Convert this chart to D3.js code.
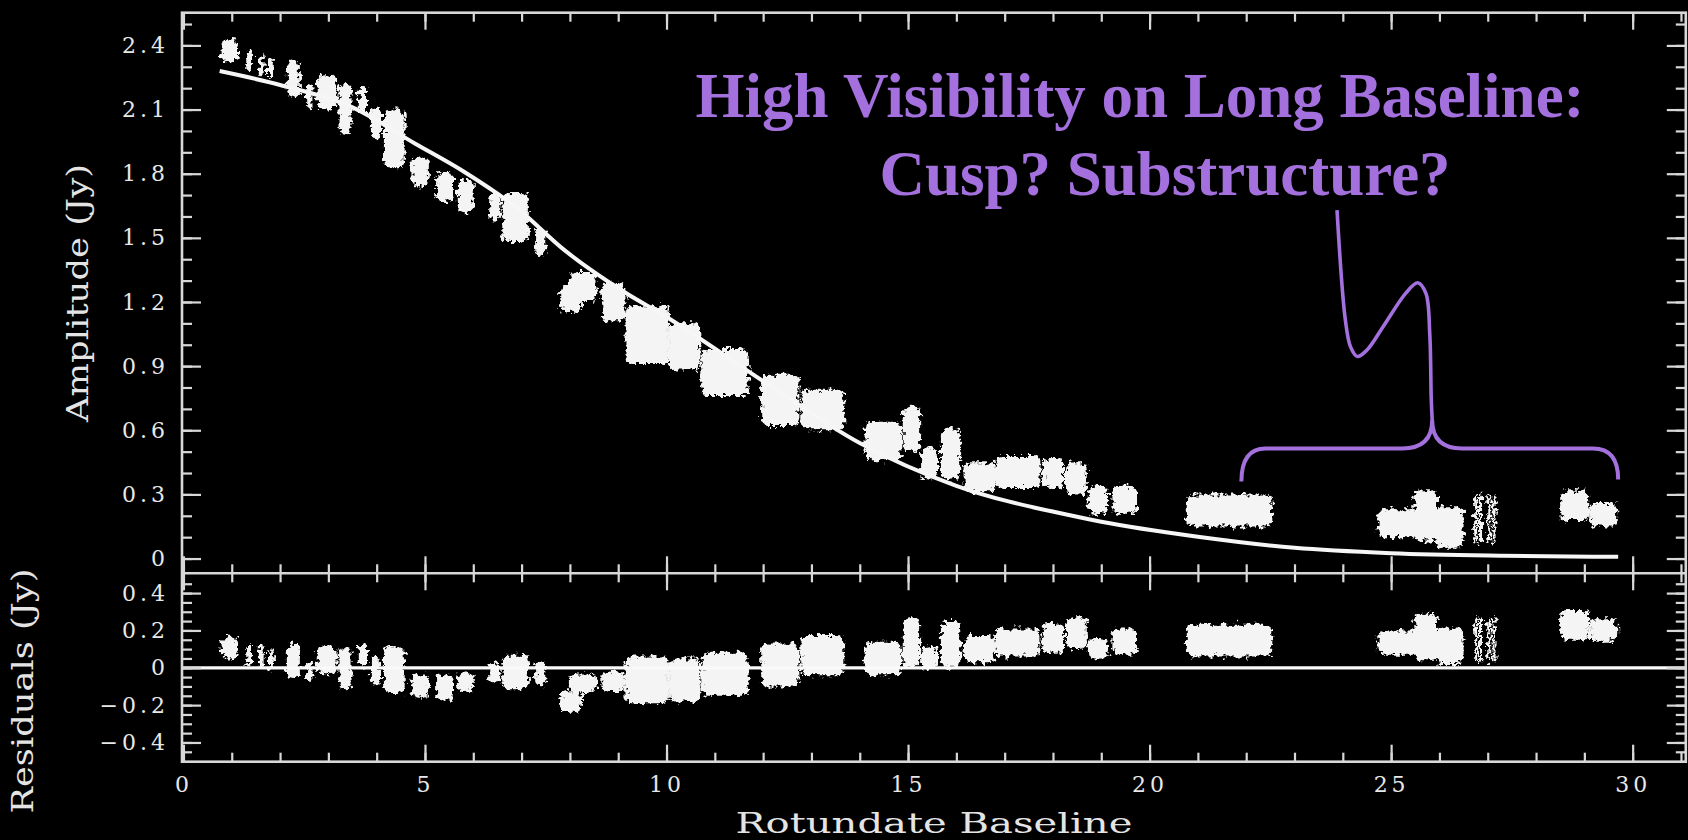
<!DOCTYPE html>
<html>
<head>
<meta charset="utf-8">
<script src="https://cdn.jsdelivr.net/npm/d3@7"></script>
<style>
  html, body { margin: 0; padding: 0; background: #000; }
  svg { display: block; }
  .axis text { font-family: "DejaVu Serif", serif; font-size: 22px; fill: #e8e8e8; letter-spacing: 4px; }
  .axis line { stroke: #d8d8d8; stroke-width: 2.2; }
  .axis path { display: none; }
</style>
</head>
<body>
<div id="chart"></div>
<script>

// Model curve (fitted amplitude)
var modelBaseline = [0.75, 2.0, 3.5, 4.8, 5.8, 6.9, 7.9, 9.1, 10.0, 12.0, 14.0, 16.0, 18.4, 19.0, 21.0, 23.0, 25.0, 27.3, 29.7];
var modelAmp      = [2.28, 2.215, 2.11, 1.94, 1.81, 1.64, 1.44, 1.25, 1.13, 0.83, 0.54, 0.34, 0.2, 0.172, 0.102, 0.05, 0.025, 0.013, 0.008];

// Data clumps: baseline range, amplitude range, residual range
var clumpStart = [0.79, 1.30, 1.56, 1.75, 2.14, 2.54, 2.76, 3.21, 3.63, 3.88, 4.15, 4.72, 5.23, 5.68, 6.33, 6.60, 7.28, 7.80, 8.00, 8.65, 9.15, 10.05, 10.72, 11.96, 12.79, 14.10, 14.89, 15.27, 15.68, 16.15, 16.80, 17.78, 18.27, 18.72, 19.23, 20.77, 24.72, 25.48, 25.92, 26.72, 26.82, 26.99, 27.10, 28.50, 29.10];
var clumpEnd   = [1.13, 1.42, 1.66, 1.87, 2.41, 2.67, 3.17, 3.48, 3.80, 4.09, 4.58, 5.08, 5.58, 6.01, 6.56, 7.15, 7.49, 8.25, 8.55, 9.15, 10.05, 10.70, 11.70, 12.75, 13.68, 14.86, 15.25, 15.60, 16.08, 16.80, 17.74, 18.23, 18.70, 19.14, 19.74, 22.54, 25.60, 25.95, 26.50, 26.78, 26.88, 27.05, 27.16, 29.10, 29.68];
var ampLow     = [2.32, 2.28, 2.26, 2.24, 2.16, 2.11, 2.10, 1.99, 2.07, 1.96, 1.83, 1.74, 1.67, 1.62, 1.58, 1.48, 1.42, 1.15, 1.20, 1.11, 0.91, 0.88, 0.76, 0.62, 0.60, 0.46, 0.50, 0.37, 0.37, 0.31, 0.33, 0.33, 0.30, 0.21, 0.21, 0.15, 0.10, 0.08, 0.05, 0.07, 0.07, 0.07, 0.07, 0.18, 0.15];
var ampHigh    = [2.43, 2.38, 2.36, 2.34, 2.33, 2.22, 2.26, 2.22, 2.21, 2.11, 2.10, 1.88, 1.81, 1.77, 1.71, 1.71, 1.55, 1.28, 1.34, 1.29, 1.18, 1.10, 0.98, 0.86, 0.79, 0.64, 0.71, 0.52, 0.61, 0.45, 0.48, 0.47, 0.45, 0.34, 0.34, 0.30, 0.23, 0.32, 0.24, 0.30, 0.30, 0.30, 0.30, 0.32, 0.26];
var resLow     = [0.05, 0.02, 0.005, -0.015, -0.06, -0.07, -0.035, -0.11, 0.005, -0.09, -0.14, -0.16, -0.175, -0.13, -0.085, -0.115, -0.10, -0.235, -0.13, -0.13, -0.19, -0.18, -0.15, -0.10, -0.04, -0.04, 0.00, -0.01, 0.00, 0.03, 0.06, 0.08, 0.10, 0.05, 0.07, 0.06, 0.07, 0.04, 0.02, 0.03, 0.03, 0.03, 0.03, 0.15, 0.14];
var resHigh    = [0.166, 0.12, 0.12, 0.10, 0.13, 0.03, 0.115, 0.11, 0.13, 0.06, 0.115, -0.035, -0.035, -0.02, 0.025, 0.07, 0.035, -0.12, -0.03, -0.02, 0.06, 0.05, 0.08, 0.13, 0.175, 0.14, 0.27, 0.12, 0.25, 0.17, 0.21, 0.24, 0.27, 0.16, 0.21, 0.23, 0.20, 0.29, 0.21, 0.27, 0.27, 0.27, 0.27, 0.31, 0.26];

// Tick values
var baseTicks = [0, 5, 10, 15, 20, 25, 30];
var ampTicks  = [0, 0.3, 0.6, 0.9, 1.2, 1.5, 1.8, 2.1, 2.4];
var resTicks  = [-0.4, -0.2, 0, 0.2, 0.4];

var baseMinor = d3.range(0, 32, 1);
var ampMinor  = d3.range(0, 26, 1).map(function(d) { return d / 10; });
var resMinor  = d3.range(-9, 10, 1).map(function(d) { return d / 20; });

var W = 1688, H = 840;
var xLeft = 182, xRight = 1685.8, yTop = 12.7, yMid = 573.3, yBot = 761.7;

var svg = d3.select("#chart").append("svg")
    .attr("width", W)
    .attr("height", H);

svg.append("rect").attr("width", W).attr("height", H).attr("fill", "#000");

// fuzzy edges for the data clumps
var defs = svg.append("defs");
var filt = defs.append("filter")
    .attr("id", "fuzz")
    .attr("filterUnits", "userSpaceOnUse")
    .attr("x", 0).attr("y", 0).attr("width", W).attr("height", H);
filt.append("feTurbulence")
    .attr("type", "fractalNoise")
    .attr("baseFrequency", 0.22)
    .attr("numOctaves", 3)
    .attr("seed", 4)
    .attr("result", "noise");
filt.append("feDisplacementMap")
    .attr("in", "SourceGraphic")
    .attr("in2", "noise")
    .attr("scale", 11)
    .attr("xChannelSelector", "R")
    .attr("yChannelSelector", "G")
    .attr("result", "moved");
filt.append("feGaussianBlur")
    .attr("in", "moved")
    .attr("stdDeviation", 0.5);

// scales
var x = d3.scaleLinear().domain([-0.03, 31.1]).range([xLeft, xRight]);
var yAmp = d3.scaleLinear().domain([-0.069, 2.553]).range([yMid, yTop]);
var yRes = d3.scaleLinear().domain([-0.503, 0.506]).range([yBot, yMid]);

var clumps = clumpStart.map(function(s, i) {
    return { x0: s, x1: clumpEnd[i], a0: ampLow[i], a1: ampHigh[i], r0: resLow[i], r1: resHigh[i] };
});
var model = modelBaseline.map(function(b, i) { return { b: b, a: modelAmp[i] }; });

// ---- data clumps, top panel
svg.append("g")
    .attr("filter", "url(#fuzz)")
    .selectAll("rect")
    .data(clumps)
    .enter()
    .append("rect")
    .attr("x", function(d) { return x(d.x0); })
    .attr("y", function(d) { return yAmp(d.a1); })
    .attr("width", function(d) { return Math.max(3, x(d.x1) - x(d.x0)); })
    .attr("height", function(d) { return yAmp(d.a0) - yAmp(d.a1); })
    .attr("rx", function(d) { return Math.min(7, (x(d.x1) - x(d.x0)) / 2); })
    .attr("fill", "#f4f4f4");

// ---- data clumps, residual panel
svg.append("g")
    .attr("filter", "url(#fuzz)")
    .selectAll("rect")
    .data(clumps)
    .enter()
    .append("rect")
    .attr("x", function(d) { return x(d.x0); })
    .attr("y", function(d) { return yRes(d.r1); })
    .attr("width", function(d) { return Math.max(3, x(d.x1) - x(d.x0)); })
    .attr("height", function(d) { return yRes(d.r0) - yRes(d.r1); })
    .attr("rx", function(d) { return Math.min(7, (x(d.x1) - x(d.x0)) / 2); })
    .attr("fill", "#f4f4f4");

// model curve
var line = d3.line()
    .x(function(d) { return x(d.b); })
    .y(function(d) { return yAmp(d.a); })
    .curve(d3.curveMonotoneX);

svg.append("path")
    .datum(model)
    .attr("d", line)
    .attr("fill", "none")
    .attr("stroke", "#f6f6f6")
    .attr("stroke-width", 4);

// zero line of residuals
svg.append("line")
    .attr("x1", xLeft).attr("x2", xRight)
    .attr("y1", yRes(0)).attr("y2", yRes(0))
    .attr("stroke", "#fafafa")
    .attr("stroke-width", 3.2);

// ---- axes (ticks inward on every side)
function addAxis(axis, tx, ty) {
    svg.append("g")
        .attr("class", "axis")
        .attr("transform", "translate(" + tx + "," + ty + ")")
        .call(axis);
}
var noLabel = function() { return ""; };
var fmt1 = function(d) { return d === 0 ? "0" : d3.format(".1f")(d); };

// x: top panel top and bottom, residual top and bottom
addAxis(d3.axisTop(x).tickValues(baseMinor).tickSize(-9).tickFormat(noLabel), 0, yTop);
addAxis(d3.axisTop(x).tickValues(baseTicks).tickSize(-17).tickFormat(noLabel), 0, yTop);
addAxis(d3.axisBottom(x).tickValues(baseMinor).tickSize(-9).tickFormat(noLabel), 0, yMid);
addAxis(d3.axisBottom(x).tickValues(baseTicks).tickSize(-17).tickFormat(noLabel), 0, yMid);
addAxis(d3.axisTop(x).tickValues(baseMinor).tickSize(-9).tickFormat(noLabel), 0, yMid);
addAxis(d3.axisTop(x).tickValues(baseTicks).tickSize(-17).tickFormat(noLabel), 0, yMid);
addAxis(d3.axisBottom(x).tickValues(baseMinor).tickSize(-9).tickFormat(noLabel), 0, yBot);
addAxis(d3.axisBottom(x).tickValues(baseTicks).tickSize(-17).tickPadding(15).tickFormat(d3.format("d")), 0, yBot);

// y amplitude
addAxis(d3.axisLeft(yAmp).tickValues(ampMinor).tickSize(-10).tickFormat(noLabel), xLeft, 0);
addAxis(d3.axisLeft(yAmp).tickValues(ampTicks).tickSize(-19).tickPadding(13).tickFormat(fmt1), xLeft, 0);
addAxis(d3.axisRight(yAmp).tickValues(ampMinor).tickSize(-10).tickFormat(noLabel), xRight, 0);
addAxis(d3.axisRight(yAmp).tickValues(ampTicks).tickSize(-19).tickFormat(noLabel), xRight, 0);

// y residuals
addAxis(d3.axisLeft(yRes).tickValues(resMinor).tickSize(-10).tickFormat(noLabel), xLeft, 0);
addAxis(d3.axisLeft(yRes).tickValues(resTicks).tickSize(-19).tickPadding(13).tickFormat(fmt1), xLeft, 0);
addAxis(d3.axisRight(yRes).tickValues(resMinor).tickSize(-10).tickFormat(noLabel), xRight, 0);
addAxis(d3.axisRight(yRes).tickValues(resTicks).tickSize(-19).tickFormat(noLabel), xRight, 0);

// frame and panel divider
svg.append("rect")
    .attr("x", xLeft).attr("y", yTop)
    .attr("width", xRight - xLeft).attr("height", yBot - yTop)
    .attr("fill", "none")
    .attr("stroke", "#d8d8d8")
    .attr("stroke-width", 2.6);
svg.append("line")
    .attr("x1", xLeft).attr("x2", xRight)
    .attr("y1", yMid).attr("y2", yMid)
    .attr("stroke", "#d8d8d8")
    .attr("stroke-width", 2.6);

// axis titles
svg.append("text")
    .attr("transform", "translate(88," + ((yTop + yMid) / 2) + ")rotate(-90)")
    .attr("text-anchor", "middle")
    .attr("textLength", 258)
    .attr("lengthAdjust", "spacingAndGlyphs")
    .style("font-family", "DejaVu Serif")
    .style("font-size", "29px")
    .style("fill", "#e4e4e4")
    .text("Amplitude (Jy)");

svg.append("text")
    .attr("transform", "translate(33,691)rotate(-90)")
    .attr("text-anchor", "middle")
    .attr("textLength", 245)
    .attr("lengthAdjust", "spacingAndGlyphs")
    .style("font-family", "DejaVu Serif")
    .style("font-size", "29px")
    .style("fill", "#e4e4e4")
    .text("Residuals (Jy)");

svg.append("text")
    .attr("x", (xLeft + xRight) / 2)
    .attr("y", 833)
    .attr("text-anchor", "middle")
    .attr("textLength", 397)
    .attr("lengthAdjust", "spacingAndGlyphs")
    .style("font-family", "DejaVu Serif")
    .style("font-size", "28px")
    .style("fill", "#e4e4e4")
    .text("Rotundate Baseline");

// ---- purple annotation
var purple = "#a370de";

var spike = [[23.88, 1.63], [24.05, 1.12], [24.16, 0.99], [24.3, 0.945], [24.5, 0.975], [24.85, 1.09],
             [25.3, 1.24], [25.55, 1.29], [25.72, 1.24], [25.8, 1.05], [25.83, 0.75], [25.85, 0.648]];

svg.append("path")
    .datum(spike)
    .attr("d", d3.line()
        .x(function(d) { return x(d[0]); })
        .y(function(d) { return yAmp(d[1]); })
        .curve(d3.curveCatmullRom.alpha(0.5)))
    .attr("fill", "none")
    .attr("stroke", purple)
    .attr("stroke-width", 3.6);

// curly brace over the long baselines
var bL = 21.9, bR = 29.7, bM = 25.85, bY = 0.515, bTip = 0.648, bEndL = 0.36, bEndR = 0.37;
var p = d3.path();
p.moveTo(x(bL), yAmp(bEndL));
p.quadraticCurveTo(x(bL), yAmp(bY), x(bL + 0.5), yAmp(bY));
p.lineTo(x(bM - 0.62), yAmp(bY));
p.quadraticCurveTo(x(bM), yAmp(bY), x(bM), yAmp(bTip));
p.quadraticCurveTo(x(bM), yAmp(bY), x(bM + 0.62), yAmp(bY));
p.lineTo(x(bR - 0.52), yAmp(bY));
p.quadraticCurveTo(x(bR), yAmp(bY), x(bR), yAmp(bEndR));

svg.append("path")
    .attr("d", p.toString())
    .attr("fill", "none")
    .attr("stroke", purple)
    .attr("stroke-width", 4);

svg.append("text")
    .attr("x", 1140)
    .attr("y", 117)
    .attr("text-anchor", "middle")
    .style("font-family", "Liberation Serif")
    .style("font-weight", "bold")
    .style("font-size", "63px")
    .style("fill", purple)
    .text("High Visibility on Long Baseline:");

svg.append("text")
    .attr("x", 1165)
    .attr("y", 195)
    .attr("text-anchor", "middle")
    .style("font-family", "Liberation Serif")
    .style("font-weight", "bold")
    .style("font-size", "63px")
    .style("fill", purple)
    .text("Cusp? Substructure?");

</script>
</body>
</html>
